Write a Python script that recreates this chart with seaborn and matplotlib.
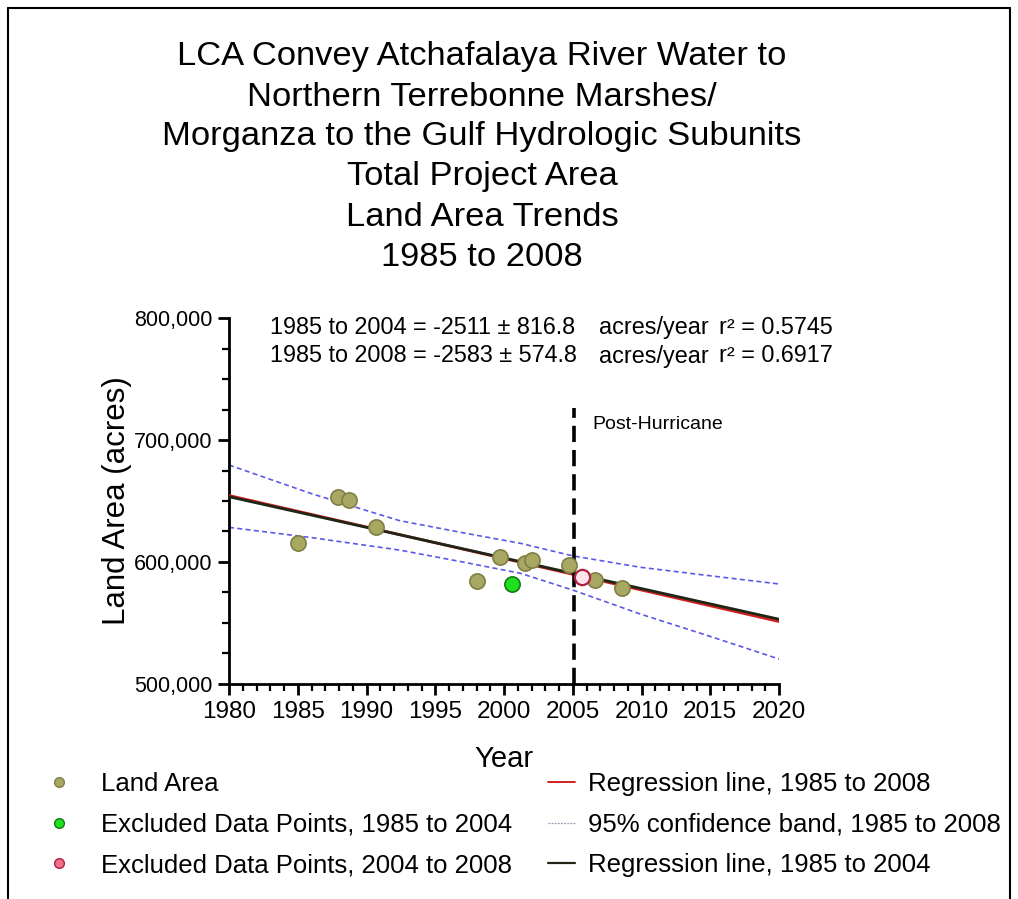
import matplotlib
matplotlib.use("Agg")
import matplotlib.pyplot as plt
import seaborn as sns
import pandas as pd
from matplotlib.lines import Line2D
from matplotlib.ticker import MultipleLocator, FuncFormatter

# ---------------- data ----------------
land_years = [1985, 1987.9, 1988.7, 1990.7, 1998.0, 1999.7, 2001.5, 2002.0, 2004.7, 2006.6, 2008.6]
land_values = [615300, 653000, 650800, 628900, 584400, 604400, 599000, 601600, 597500, 585200, 578400]

excl_0104_years = [2000.6]
excl_0104_values = [581800]

excl_0408_years = [2005.65]
excl_0408_values = [588000]

reg_years = [1980, 2020]
reg_8508_values = [654500, 551200]   # red regression, 1985 to 2008
reg_8504_values = [653500, 553100]   # black regression, 1985 to 2004

band_years = [1980, 1986, 1992.4, 1997, 2001.2, 2005, 2009.9, 2015, 2020]
band_upper = [679500, 656000, 633900, 624000, 615300, 605000, 595700, 588700, 582000]
band_lower = [628400, 620000, 609800, 600000, 590700, 577000, 557400, 539000, 520500]

hurricane_year = 2005.1
hurricane_span = [500000, 726000]

title_lines = [
    "LCA Convey Atchafalaya River Water to",
    "Northern Terrebonne Marshes/",
    "Morganza to the Gulf Hydrologic Subunits",
    "Total Project Area",
    "Land Area Trends",
    "1985 to 2008",
]
stat_lines = [
    ("1985 to 2004 = -2511 \u00b1 816.8", "acres/year", "r\u00b2 = 0.5745"),
    ("1985 to 2008 = -2583 \u00b1 574.8", "acres/year", "r\u00b2 = 0.6917"),
]
legend_markers = ["Land Area", "Excluded Data Points, 1985 to 2004", "Excluded Data Points, 2004 to 2008"]
legend_lines = ["Regression line, 1985 to 2008", "95% confidence band, 1985 to 2008", "Regression line, 1985 to 2004"]

# ---------------- style ----------------
sns.set_style("white")
plt.rcParams["font.family"] = ["Liberation Sans", "DejaVu Sans"]
plt.rcParams["text.color"] = "black"
plt.rcParams["axes.labelcolor"] = "black"

W, H = 1018, 899
fig = plt.figure(figsize=(W / 100, H / 100), dpi=100)
ax = fig.add_axes([229 / W, 1 - 684 / H, (779 - 229) / W, (684 - 318) / H])
ax.set_facecolor("none")

OLIVE_FACE = "#a8a862"
OLIVE_EDGE = "#7f7f45"
GREEN_FACE = "#1ee01e"
GREEN_EDGE = "#137a13"
PINK_FACE = "#ee7088"
PINK_EDGE = "#b02040"
RED = "#d02020"
DARK = "#1e2616"
BLUE = "#5a5ae6"

# confidence band
band_df = pd.DataFrame({"year": band_years, "upper": band_upper, "lower": band_lower})
for col in ["upper", "lower"]:
    sns.lineplot(data=band_df, x="year", y=col, ax=ax, color=BLUE, lw=1.2,
                 estimator=None, sort=False, zorder=2)
for l in ax.lines:
    l.set_dashes([3.0, 2.0])

# regression lines
reg_df = pd.DataFrame({"year": reg_years, "r08": reg_8508_values, "r04": reg_8504_values})
sns.lineplot(data=reg_df, x="year", y="r08", ax=ax, color=RED, lw=2.0, estimator=None, zorder=3)
sns.lineplot(data=reg_df, x="year", y="r04", ax=ax, color=DARK, lw=2.0, estimator=None, zorder=4)

# hurricane line
ax.plot([hurricane_year, hurricane_year], hurricane_span, color="black", lw=2.6,
        dashes=[4.5, 2.2], zorder=5, clip_on=False)
ax.text(2006.4, 712500, "Post-Hurricane", fontsize=14, ha="left", va="center")

# points
sns.scatterplot(x=land_years, y=land_values, ax=ax, s=120, color=OLIVE_FACE,
                edgecolor=OLIVE_EDGE, linewidth=1.2, zorder=6)
sns.scatterplot(x=excl_0104_years, y=excl_0104_values, ax=ax, s=120, color=GREEN_FACE,
                edgecolor=GREEN_EDGE, linewidth=1.2, zorder=6)
sns.scatterplot(x=excl_0408_years, y=excl_0408_values, ax=ax, s=120, color="#ffe4ea",
                edgecolor=PINK_EDGE, linewidth=1.6, zorder=6)

# axes
ax.set_xlim(1980, 2020)
ax.set_ylim(500000, 800000)
ax.xaxis.set_major_locator(MultipleLocator(5))
ax.xaxis.set_minor_locator(MultipleLocator(1))
ax.yaxis.set_major_locator(MultipleLocator(100000))
ax.yaxis.set_minor_locator(MultipleLocator(25000))
ax.yaxis.set_major_formatter(FuncFormatter(lambda v, p: f"{int(v):,}"))
for s in ["top", "right"]:
    ax.spines[s].set_visible(False)
for s in ["left", "bottom"]:
    ax.spines[s].set_linewidth(2.0)
    ax.spines[s].set_color("black")
ax.tick_params(axis="both", which="both", bottom=True, left=True, top=False, right=False)
ax.tick_params(axis="both", which="major", direction="out", length=8, width=2.0,
               color="black", labelcolor="black")
ax.tick_params(axis="x", which="major", labelsize=17.5, pad=4)
ax.tick_params(axis="y", which="major", labelsize=15.5, pad=4)
ax.tick_params(axis="both", which="minor", direction="out", length=5, width=1.6, color="black")
ax.set_xlabel("Year", fontsize=21, labelpad=16)
ax.set_ylabel("Land Area (acres)", fontsize=22.5)
ax.yaxis.set_label_coords(-0.177, 0.5)
ax.grid(False)

# title
for i, t in enumerate(title_lines):
    fig.text(482 / W, 1 - (57 + i * 40) / H, t, ha="center", va="center", fontsize=24.8)

# statistics text
for i, (a, b, c) in enumerate(stat_lines):
    yy = 1 - (327 + i * 29) / H
    fig.text(270 / W, yy, a, ha="left", va="center", fontsize=16.8)
    fig.text(599 / W, yy, b, ha="left", va="center", fontsize=16.8)
    fig.text(719 / W, yy, c, ha="left", va="center", fontsize=16.8)

# legends
mk_handles = [
    Line2D([], [], ls="none", marker="o", ms=7, mfc=OLIVE_FACE, mec=OLIVE_EDGE, mew=1.0),
    Line2D([], [], ls="none", marker="o", ms=7, mfc=GREEN_FACE, mec=GREEN_EDGE, mew=1.0),
    Line2D([], [], ls="none", marker="o", ms=7, mfc=PINK_FACE, mec=PINK_EDGE, mew=1.0),
]
ln_handles = [
    Line2D([], [], color=RED, lw=1.4),
    Line2D([], [], color="#9a9ab0", lw=0.9, dashes=[1.5, 1.0]),
    Line2D([], [], color=DARK, lw=1.6),
]
leg1 = fig.legend(mk_handles, legend_markers, loc="upper left", bbox_to_anchor=(46 / W, 1 - 772 / H),
                  frameon=False, fontsize=18.5, handlelength=1.0, handletextpad=1.15,
                  labelspacing=0.65, borderpad=0, borderaxespad=0)
leg2 = fig.legend(ln_handles, legend_lines, loc="upper left", bbox_to_anchor=(548 / W, 1 - 772 / H),
                  frameon=False, fontsize=18.5, handlelength=1.05, handletextpad=0.5,
                  labelspacing=0.65, borderpad=0, borderaxespad=0)

# outer frame (left, top, right)
for xs, ys in [([8 / W, 8 / W], [0, 1 - 8 / H]),
               ([8 / W, 1010 / W], [1 - 8 / H, 1 - 8 / H]),
               ([1010 / W, 1010 / W], [0, 1 - 8 / H])]:
    fig.add_artist(Line2D(xs, ys, transform=fig.transFigure, color="black", lw=1.5))

fig.savefig("out.png", dpi=100)
